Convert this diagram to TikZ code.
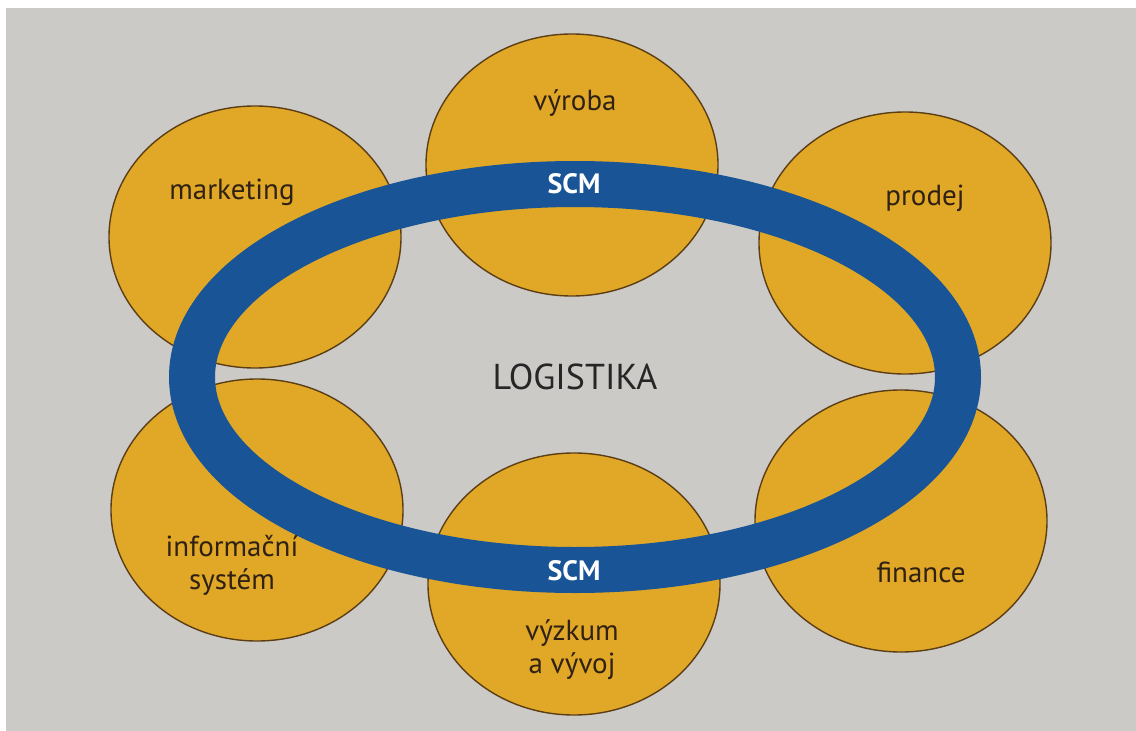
\documentclass[tikz,border=0pt]{standalone}
\usepackage{fontspec}
\setmainfont{PT Sans}
\usetikzlibrary{shapes.geometric}
\definecolor{paper}{RGB}{203,202,199}
\definecolor{gold}{RGB}{224,168,38}
\definecolor{scmblue}{RGB}{24,84,150}
\definecolor{rim}{RGB}{92,62,22}
\definecolor{ink}{RGB}{48,33,20}
\tikzset{area/.style={ellipse,draw=rim,fill=gold,line width=1.4pt,minimum width=292pt,minimum height=262pt,inner sep=0pt}}
\tikzset{lbl/.style={text=ink,font=\fontsize{29}{33}\selectfont,align=center}}
\tikzset{scm/.style={text=white,font=\bfseries\fontsize{28}{30}\selectfont}}

\begin{document}
\begin{tikzpicture}[x=1pt,y=-1pt]
\useasboundingbox (0,0) rectangle (1136,731);
\fill[white] (0,0) rectangle (1136,731);
\fill[paper] (6,8) rectangle (1136,731);
\node[area] (vyroba) at (572,165) {};
\node[area] (marketing) at (255,237) {};
\node[area] (prodej) at (905,243) {};
\node[area] (infosys) at (257,510) {};
\node[area] (vyzkum) at (574,584) {};
\node[area] (finance) at (901,521) {};
\coordinate (O) at (575,377);
\draw[scmblue,line width=46pt] (O) ellipse [x radius=383,y radius=193];
\node[lbl] (tvyroba) at (575,103) {výroba};
\node[lbl] (tmarketing) at (232,192) {marketing};
\node[lbl] (tprodej) at (925,198) {prodej};
\node[lbl] (tinfosys) at (232,565) {informační\\systém};
\node[lbl] (tvyzkum) at (572,650) {výzkum\\a vývoj};
\node[lbl] (tfinance) at (921,572) {finance};
\node[scm] (scmtop) at (574,184) {SCM};
\node[scm] (scmbot) at (574,571) {SCM};
\node[text=black!85,font=\fontsize{36}{40}\selectfont] (logistika) at (O) {LOGISTIKA};
\end{tikzpicture}
\end{document}
